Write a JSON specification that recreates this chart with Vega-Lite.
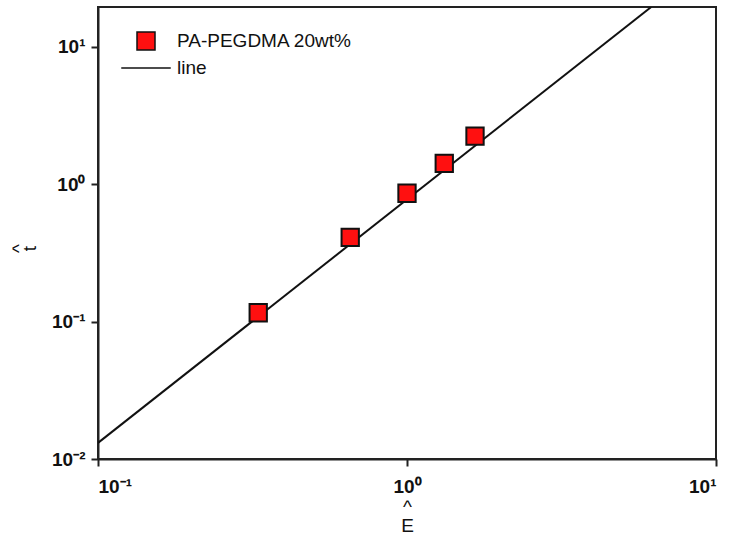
{
  "$schema": "https://vega.github.io/schema/vega-lite/v6.json",
  "width": 618,
  "height": 452,
  "autosize": {"type": "none"},
  "padding": {"left": 98, "top": 7, "right": 15, "bottom": 78},
  "background": "white",
  "config": {
    "font": "Liberation Sans",
    "view": {"stroke": "#222", "strokeWidth": 2},
    "axis": {
      "domainColor": "#222",
      "domainWidth": 2,
      "tickColor": "#222",
      "tickWidth": 2,
      "tickSize": 7,
      "grid": false,
      "labelFont": "Liberation Sans",
      "labelFontSize": 19,
      "labelFontWeight": "bold",
      "labelColor": "#111",
      "titleFont": "Liberation Sans",
      "titleFontSize": 19,
      "titleFontWeight": "normal",
      "titleColor": "#111"
    }
  },
  "datasets": {
    "pts": [
      {"E": 0.33, "t": 0.116, "series": "PA-PEGDMA 20wt%"},
      {"E": 0.655, "t": 0.41, "series": "PA-PEGDMA 20wt%"},
      {"E": 1.0, "t": 0.86, "series": "PA-PEGDMA 20wt%"},
      {"E": 1.32, "t": 1.42, "series": "PA-PEGDMA 20wt%"},
      {"E": 1.66, "t": 2.24, "series": "PA-PEGDMA 20wt%"}
    ],
    "fit": [
      {"E": 0.1, "t": 0.0131},
      {"E": 6.17, "t": 19.5}
    ]
  },
  "layer": [
    {
      "data": {"name": "fit"},
      "mark": {"type": "line", "color": "#111", "strokeWidth": 2, "clip": true},
      "encoding": {
        "x": {"field": "E", "type": "quantitative", "scale": {"type": "log", "domain": [0.1, 10], "nice": false},
          "axis": {"values": [0.1, 1, 10], "title": ["^", "E"], "titleLineHeight": 19, "titlePadding": 1, "labelPadding": 11,
            "labelExpr": "datum.value < 0.5 ? '10⁻¹' : (datum.value < 5 ? '10⁰' : '10¹')"}},
        "y": {"field": "t", "type": "quantitative", "scale": {"type": "log", "domain": [0.01, 19.5], "nice": false},
          "axis": {"values": [0.01, 0.1, 1, 10], "title": ["^", "t"], "titleLineHeight": 11, "titlePadding": 12, "labelPadding": 6, "titleY": 241,
            "labelExpr": "datum.value < 0.05 ? '10⁻²' : (datum.value < 0.5 ? '10⁻¹' : (datum.value < 5 ? '10⁰' : '10¹'))"}}
      }
    },
    {
      "data": {"name": "pts"},
      "mark": {"type": "point", "filled": true, "fill": "#ff1010", "stroke": "#111", "strokeWidth": 2, "opacity": 1, "size": 300},
      "encoding": {
        "x": {"field": "E", "type": "quantitative"},
        "y": {"field": "t", "type": "quantitative"},
        "shape": {
          "field": "series", "type": "nominal",
          "scale": {"domain": ["PA-PEGDMA 20wt%", "line"], "range": ["square", "M-2.75,0H2.75"]},
          "legend": {
            "title": null,
            "orient": "none",
            "legendX": 38,
            "legendY": 24,
            "labelFontSize": 19,
            "labelFont": "Liberation Sans",
            "labelColor": "#111",
            "labelLimit": 400,
            "symbolSize": 324,
            "labelOffset": 21,
            "rowPadding": 5,
            "encode": {
              "symbols": {"update": {
                "fill": {"signal": "datum.label === 'line' ? 'transparent' : '#ff1010'"},
                "stroke": {"value": "#111"},
                "strokeWidth": {"value": 2},
                "opacity": {"value": 1}
              }}
            }
          }
        }
      }
    }
  ]
}
